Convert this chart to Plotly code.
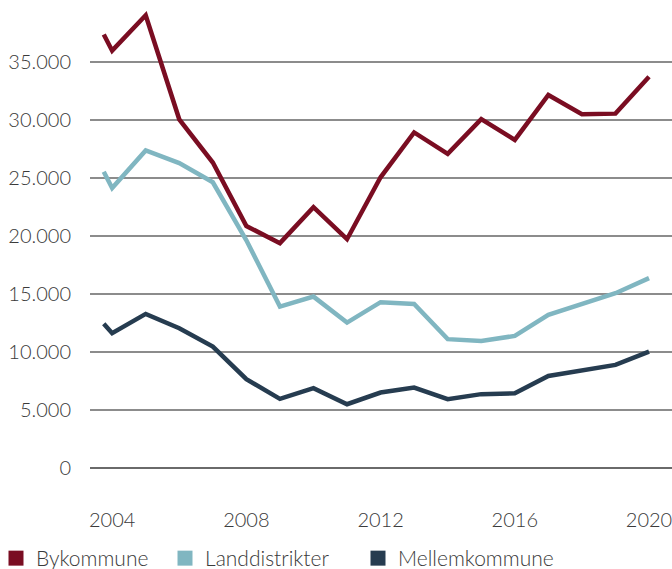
import plotly.graph_objects as go

years = [2003.75, 2004, 2005, 2006, 2007, 2008, 2009, 2010, 2011, 2012,
         2013, 2014, 2015, 2016, 2017, 2018, 2019, 2020]
bykommune = [37350, 35950, 39000, 30030, 26300, 20830, 19350, 22450, 19690, 25030,
             28900, 27050, 30050, 28250, 32130, 30470, 30520, 33700]
landdistrikter = [25500, 24100, 27350, 26250, 24600, 19600, 13880, 14740, 12500, 14260,
                  14110, 11070, 10920, 11350, 13160, 14080, 15030, 16330]
mellemkommune = [12390, 11590, 13250, 12010, 10430, 7620, 5920, 6840, 5460, 6470,
                 6900, 5900, 6330, 6400, 7900, 8340, 8850, 10000]

series_names = ["Bykommune", "Landdistrikter", "Mellemkommune"]
series_values = [bykommune, landdistrikter, mellemkommune]
colors = ["#7a0d22", "#80b6c1", "#263c50"]

tick_years = [2004, 2008, 2012, 2016, 2020]
y_ticks = [0, 5000, 10000, 15000, 20000, 25000, 30000, 35000]
y_labels = ["0", "5.000", "10.000", "15.000", "20.000", "25.000", "30.000", "35.000"]

FONT = "Lato"
TXT = "#3a3a3a"
fig = go.Figure()
for name, vals, col in zip(series_names, series_values, colors):
    fig.add_trace(go.Scatter(x=years, y=vals, mode="lines", name=name,
                             line=dict(color=col, width=4.5), showlegend=False,
                             hoverinfo="skip"))

legend_ids = ["legend", "legend2", "legend3"]
legend_x_px = [-4, 165, 358]
PLOT_L, PLOT_W = 90, 582
for name, col, lid in zip(series_names, colors, legend_ids):
    fig.add_trace(go.Scatter(x=[None], y=[None], mode="markers", name=name,
                             legend=lid,
                             marker=dict(symbol="square", size=15, color=col)))

leg_common = dict(orientation="h", xanchor="left", y=-0.117, yanchor="middle",
                  font=dict(family=FONT, size=21, color=TXT, weight=300),
                  itemwidth=30, bgcolor="rgba(0,0,0,0)")
legends = {}
for lid, xp in zip(legend_ids, legend_x_px):
    legends[lid] = dict(leg_common, x=(xp - PLOT_L) / PLOT_W)

fig.update_layout(
    width=672, height=569,
    margin=dict(l=PLOT_L, r=0, t=0, b=69, autoexpand=False),
    paper_bgcolor="white", plot_bgcolor="white",
    font=dict(family=FONT, size=20, color=TXT, weight=300),
    xaxis=dict(range=[2003.34, 2020.685], tickvals=tick_years,
               ticktext=[str(t) for t in tick_years], showgrid=False, zeroline=False,
               showline=False, ticks="", ticklabelstandoff=6,
               ticklabeloverflow="allow"),
    yaxis=dict(range=[-2800, 40319], tickvals=y_ticks, ticktext=y_labels,
               showgrid=True, gridcolor="#8c8c8c", gridwidth=2, zeroline=True,
               zerolinecolor="#6a6a6a", zerolinewidth=2,
               showline=False, ticks="", ticklabelstandoff=18),
    **legends,
)
fig.write_html("out.html", config={"displayModeBar": False},
               post_script="document.body.style.margin='0';")
